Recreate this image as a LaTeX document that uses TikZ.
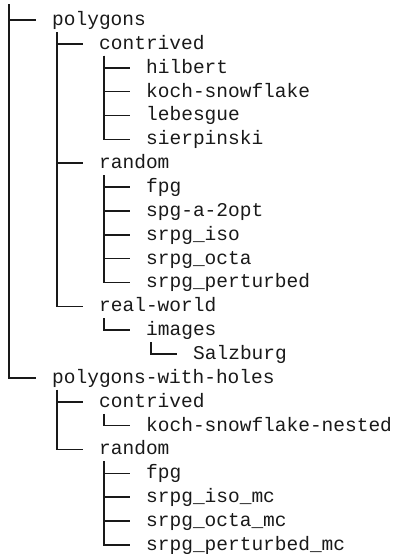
\documentclass[tikz,border=0pt]{standalone}
\usepackage{fontspec}
\setmonofont{Liberation Mono}
\begin{document}
\begin{tikzpicture}[x=1pt,y=1pt,
  item/.style={anchor=west,inner sep=0pt,text height=11pt,text depth=0pt,
    font=\ttfamily\fontsize{19.5}{20}\selectfont,text=black!90},
  branch/.style={line width=1.6pt,draw=black!90}]
\useasboundingbox[fill=white] (0,0) rectangle (396,-554);
\def\rowy#1{-20-23.86*#1}
% level 0
\node[item] (poly)  at (52,{\rowy{0}})  {polygons};
\node[item] (pwh)   at (52,{\rowy{15}}) {polygons-with-holes};
% level 1
\node[item] (pcon)  at (99,{\rowy{1}})  {contrived};
\node[item] (prand) at (99,{\rowy{6}})  {random};
\node[item] (preal) at (99,{\rowy{12}}) {real-world};
\node[item] (hcon)  at (99,{\rowy{16}}) {contrived};
\node[item] (hrand) at (99,{\rowy{18}}) {random};
% level 2
\node[item] (hil)   at (146,{\rowy{2}})  {hilbert};
\node[item] (koch)  at (146,{\rowy{3}})  {koch-snowflake};
\node[item] (leb)   at (146,{\rowy{4}})  {lebesgue};
\node[item] (sier)  at (146,{\rowy{5}})  {sierpinski};
\node[item] (fpg)   at (146,{\rowy{7}})  {fpg};
\node[item] (spg)   at (146,{\rowy{8}})  {spg-a-2opt};
\node[item] (iso)   at (146,{\rowy{9}})  {srpg\_iso};
\node[item] (octa)  at (146,{\rowy{10}}) {srpg\_octa};
\node[item] (pert)  at (146,{\rowy{11}}) {srpg\_perturbed};
\node[item] (img)   at (146,{\rowy{13}}) {images};
\node[item] (kochn) at (146,{\rowy{17}}) {koch-snowflake-nested};
\node[item] (hfpg)  at (146,{\rowy{19}}) {fpg};
\node[item] (hiso)  at (146,{\rowy{20}}) {srpg\_iso\_mc};
\node[item] (hocta) at (146,{\rowy{21}}) {srpg\_octa\_mc};
\node[item] (hpert) at (146,{\rowy{22}}) {srpg\_perturbed\_mc};
% level 3
\node[item] (salz)  at (193,{\rowy{14}}) {Salzburg};
% root
\coordinate (top) at (9,-4);
% connectors
\foreach \c in {poly,pwh}
  \draw[branch] (top) |- ([xshift=-16pt]\c.west);
\foreach \p/\c in {poly/pcon,poly/prand,poly/preal,pwh/hcon,pwh/hrand,
    pcon/hil,pcon/koch,pcon/leb,pcon/sier,
    prand/fpg,prand/spg,prand/iso,prand/octa,prand/pert,
    preal/img,img/salz,hcon/kochn,
    hrand/hfpg,hrand/hiso,hrand/hocta,hrand/hpert}
  \draw[branch] ([xshift=5pt,yshift=-12pt]\p.west) |- ([xshift=-16pt]\c.west);
\end{tikzpicture}
\end{document}
